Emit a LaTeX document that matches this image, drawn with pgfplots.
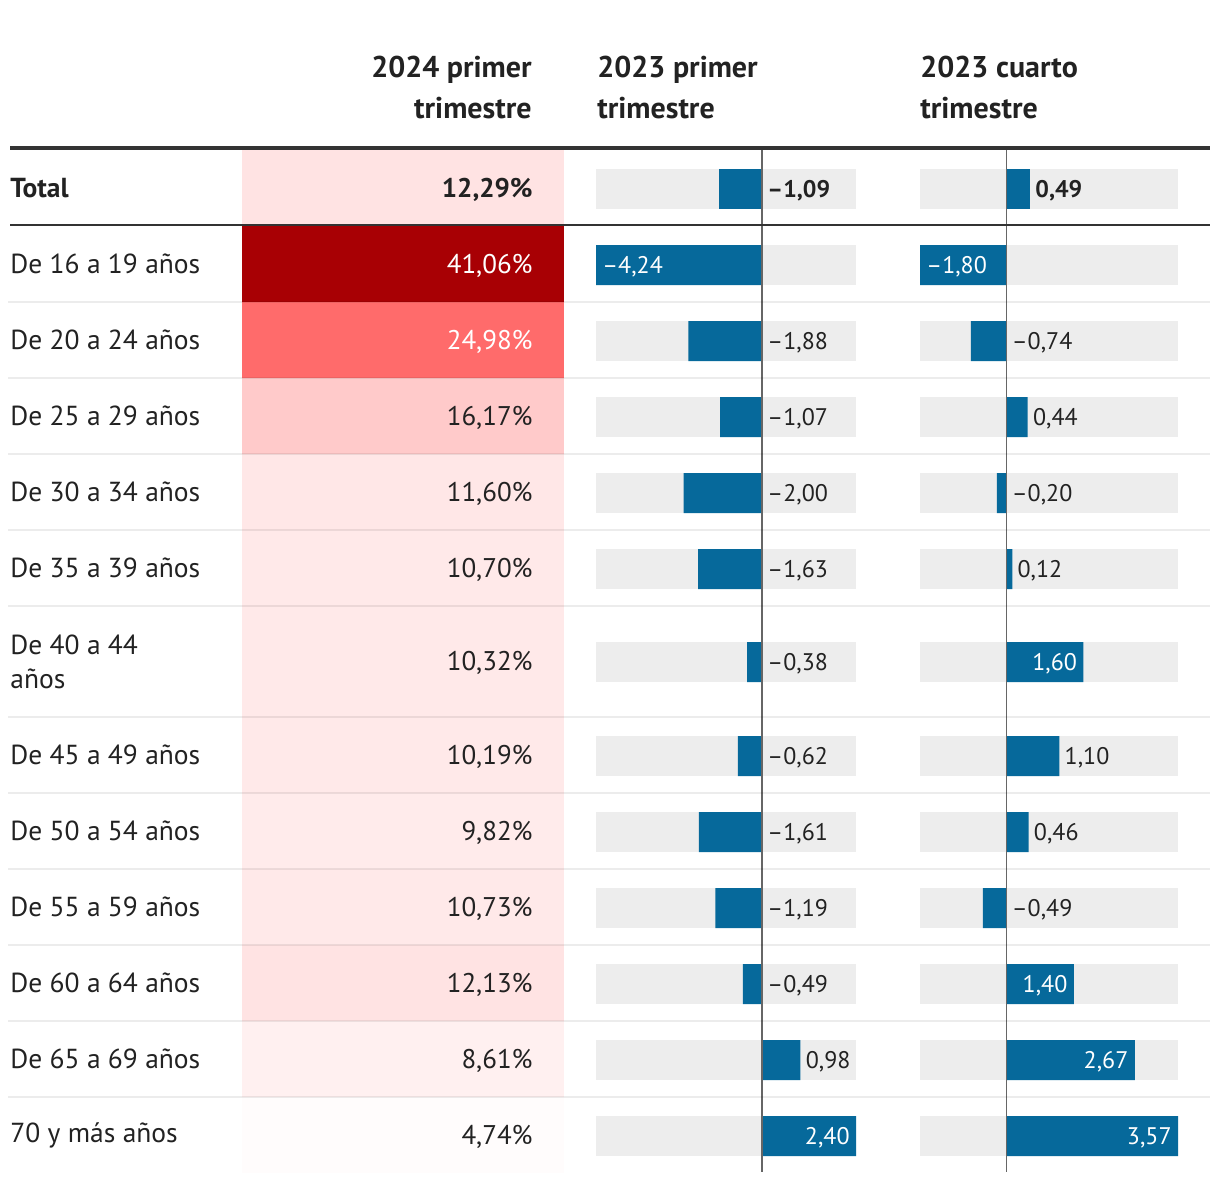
\documentclass[border=0pt]{standalone}
\usepackage{pgfplots}
\pgfplotsset{compat=1.18}
\usepackage{pgfplotstable}
\usepackage{fontspec}
\setmainfont{PT Sans}

\definecolor{ink}{HTML}{222222}
\definecolor{barblue}{HTML}{06699B}
\definecolor{bggray}{HTML}{EDEDED}
\definecolor{zeroline}{HTML}{666666}
\definecolor{rulec}{HTML}{333333}
\definecolor{hA}{HTML}{A80004}
\definecolor{hB}{HTML}{FF6B6B}
\definecolor{hC}{HTML}{FFCACA}
\definecolor{hT}{HTML}{FFE3E3}
\definecolor{hD}{HTML}{FFE7E7}
\definecolor{hE}{HTML}{FFE9E9}
\definecolor{hF}{HTML}{FFEBEB}
\definecolor{hG}{HTML}{FFF0F0}
\definecolor{hH}{HTML}{FFFCFC}

% change vs 2023 Q1 (row centre in px, value, label at bar end (1) or at zero (0), label group)
% grp 0: dark label outside, 1: white label inside (left), 2: white label inside (right)
\pgfplotstableread{
y val at grp
265 -4.24 1 1
341 -1.88 0 0
417 -1.07 0 0
493 -2.00 0 0
569 -1.63 0 0
662 -0.38 0 0
756 -0.62 0 0
832 -1.61 0 0
908 -1.19 0 0
984 -0.49 0 0
1060 0.98 1 0
1136 2.40 1 2
}\colB
\pgfplotstableread{
y val at grp
189 -1.09 0 0
}\colBt
% change vs 2023 Q4
\pgfplotstableread{
y val at grp
265 -1.80 1 1
341 -0.74 0 0
417 0.44 1 0
493 -0.20 0 0
569 0.12 1 0
662 1.60 1 2
756 1.10 1 0
832 0.46 1 0
908 -0.49 0 0
984 1.40 1 2
1060 2.67 1 2
1136 3.57 1 2
}\colC
\pgfplotstableread{
y val at grp
189 0.49 1 0
}\colCt

\newcommand\labfmt[1]{\pgfmathsetmacro\absval{abs(#1)}\ifdim#1pt<0pt\relax –\fi\pgfmathprintnumber[fixed,fixed zerofill,precision=2,use comma,assume math mode=true]{\absval}}

\newcommand\heat[5]{%
\addplot[xbar, bar width=#2, fill=#4, draw=none, point meta=explicit,
  nodes near coords={\pgfmathprintnumber[fixed,fixed zerofill,precision=2,use comma,assume math mode=true]{\pgfplotspointmeta}\%},
  nodes near coords style={anchor=east, xshift=-15.5pt, yshift=-0.75pt, inner sep=0pt, #5}]
  coordinates {(1,#1) [#3]};}

\pgfplotsset{
  tablecol/.style={
    scale only axis, height=591pt, ymin=0, ymax=1182, y dir=reverse,
    axis line style={draw=none}, tick style={draw=none},
    xtick=\empty, ytick=\empty, clip=false, anchor=north west},
  barlab/.style n args={4}{draw=none, mark=none, point meta=x,
    restrict expr to domain={\thisrow{grp}}{#1:#1},
    visualization depends on={\thisrow{val}\as\vval},
    nodes near coords={\labfmt{\vval}},
    nodes near coords style={anchor=#2, text=#3, xshift=#4, yshift=-1pt, inner sep=0pt, font=\fontsize{12}{14}\selectfont}},
}
\newcommand\labels[2]{%
\addplot[barlab={0}{west}{ink}{2.5pt}, nodes near coords style={font=\fontsize{12}{14}\selectfont#2}] table[x expr=\thisrow{val}*\thisrow{at}, y=y] {#1};
\addplot[barlab={1}{west}{white}{3pt}, nodes near coords style={font=\fontsize{12}{14}\selectfont#2}] table[x expr=\thisrow{val}*\thisrow{at}, y=y] {#1};
\addplot[barlab={2}{east}{white}{-3pt}, nodes near coords style={font=\fontsize{12}{14}\selectfont#2}] table[x expr=\thisrow{val}*\thisrow{at}, y=y] {#1};
}

\begin{document}
\begin{tikzpicture}[x=0.5pt,y=-0.5pt]
\fill[white] (0,0) rectangle (1220,1182);

% headers
\begin{scope}[every node/.style={inner sep=0pt, text=ink, font=\fontsize{15}{20}\selectfont\bfseries}]
\node[anchor=base east] at (532,78) {2024 primer};
\node[anchor=base east] at (532,119) {trimestre};
\node[anchor=base west] at (597,78) {2023 primer};
\node[anchor=base west] at (597,119) {trimestre};
\node[anchor=base west] at (920,78) {2023 cuarto};
\node[anchor=base west] at (920,119) {trimestre};
\end{scope}

% heat column with row labels
\begin{axis}[tablecol, at={(121pt,0pt)}, width=161pt, xmin=0, xmax=1,
  ytick={188,264,340,416,492,568,661.5,755,831,907,983,1059,1135},
  yticklabels={{\bfseries Total},{De 16 a 19 años},{De 20 a 24 años},{De 25 a 29 años},{De 30 a 34 años},{De 35 a 39 años},{De 40 a 44\\años},{De 45 a 49 años},{De 50 a 54 años},{De 55 a 59 años},{De 60 a 64 años},{De 65 a 69 años},{70 y más años}},
  yticklabel style={anchor=west, xshift=-116pt, inner sep=0pt, align=left, text=ink, font=\fontsize{13.75}{17}\selectfont},
  ]
\heat{188}{76}{12.29}{hT}{text=ink, font=\fontsize{13.5}{16}\selectfont\bfseries}
\heat{264}{76}{41.06}{hA}{text=white, font=\fontsize{13.5}{16}\selectfont}
\heat{340}{76}{24.98}{hB}{text=white, font=\fontsize{13.5}{16}\selectfont}
\heat{416}{76}{16.17}{hC}{text=ink, font=\fontsize{13.5}{16}\selectfont}
\heat{492}{76}{11.60}{hD}{text=ink, font=\fontsize{13.5}{16}\selectfont}
\heat{568}{76}{10.70}{hE}{text=ink, font=\fontsize{13.5}{16}\selectfont}
\heat{661.5}{111}{10.32}{hE}{text=ink, font=\fontsize{13.5}{16}\selectfont}
\heat{755}{76}{10.19}{hE}{text=ink, font=\fontsize{13.5}{16}\selectfont}
\heat{831}{76}{9.82}{hF}{text=ink, font=\fontsize{13.5}{16}\selectfont}
\heat{907}{76}{10.73}{hE}{text=ink, font=\fontsize{13.5}{16}\selectfont}
\heat{983}{76}{12.13}{hT}{text=ink, font=\fontsize{13.5}{16}\selectfont}
\heat{1059}{76}{8.61}{hG}{text=ink, font=\fontsize{13.5}{16}\selectfont}
\heat{1135}{76}{4.74}{hH}{text=ink, font=\fontsize{13.5}{16}\selectfont}
\end{axis}

% column: 2023 primer trimestre
\begin{axis}[tablecol, at={(298pt,0pt)}, width=130pt, xmin=-4.24, xmax=2.40]
\pgfplotsinvokeforeach{189,265,341,417,493,569,662,756,832,908,984,1060,1136}{
  \fill[bggray] (axis cs:-4.24,#1-20) rectangle (axis cs:2.40,#1+20);}
\addplot[xbar, fill=barblue, draw=none, bar width=40] table[x=val,y=y] {\colBt};
\addplot[xbar, fill=barblue, draw=none, bar width=40] table[x=val,y=y] {\colB};
\draw[zeroline, line width=0.75pt] (axis cs:0,150) -- (axis cs:0,1172);
\labels{\colBt}{\bfseries}
\labels{\colB}{}
\end{axis}

% column: 2023 cuarto trimestre
\begin{axis}[tablecol, at={(460pt,0pt)}, width=129pt, xmin=-1.80, xmax=3.57]
\pgfplotsinvokeforeach{189,265,341,417,493,569,662,756,832,908,984,1060,1136}{
  \fill[bggray] (axis cs:-1.80,#1-20) rectangle (axis cs:3.57,#1+20);}
\addplot[xbar, fill=barblue, draw=none, bar width=40] table[x=val,y=y] {\colCt};
\addplot[xbar, fill=barblue, draw=none, bar width=40] table[x=val,y=y] {\colC};
\draw[zeroline, line width=0.75pt] (axis cs:0,150) -- (axis cs:0,1172);
\labels{\colCt}{\bfseries}
\labels{\colC}{}
\end{axis}

% rules
\foreach \yy in {302,378,454,530,606,717,793,869,945,1021,1097}
  \draw[black, opacity=0.075, line width=1.25pt] (8,\yy) -- (1210,\yy);
\draw[rulec, line width=1.75pt] (10,148) -- (1210,148);
\draw[rulec, line width=1pt] (10,225) -- (1210,225);

\pgfresetboundingbox
\path[use as bounding box] (0,0) rectangle (1220,1182);
\end{tikzpicture}
\end{document}
